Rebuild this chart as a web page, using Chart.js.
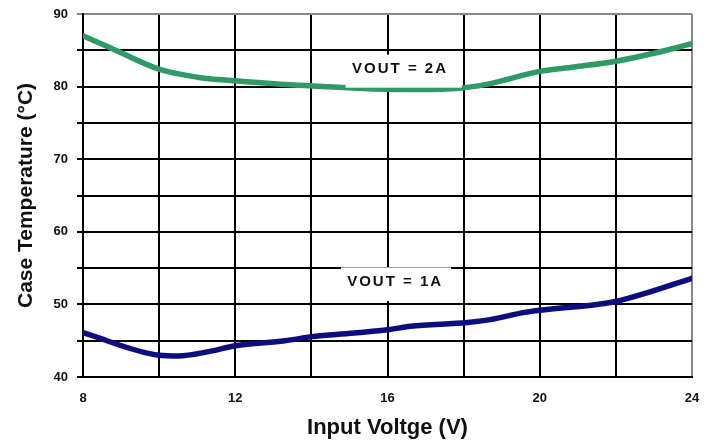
<!DOCTYPE html>
<html>
<head>
<meta charset="utf-8">
<title>Case Temperature vs Input Voltage</title>
<script src="https://cdn.jsdelivr.net/npm/chart.js@4/dist/chart.umd.min.js"></script>
<style>
  html, body { margin: 0; padding: 0; background: #fff; }
  canvas { display: block; }
</style>
</head>
<body>
<canvas id="chart" width="715" height="443"></canvas>
<script>
'use strict'

// input voltage (V) and case temperature (°C) for each output current
var volts2A = [8, 8.7, 10, 11, 12, 13.3, 14.3, 15.1, 16.4, 17.8, 18.6, 20, 20.9, 22, 23, 24]
var temp2A = [87.0, 85.4, 82.4, 81.3, 80.8, 80.3, 80.0, 79.8, 79.6, 79.75, 80.3, 82.1, 82.7, 83.5, 84.6, 85.9]

var volts1A = [8, 10, 10.5, 11.3, 12, 13.3, 14.1, 15.2, 16, 16.6, 18.1, 18.7, 19.6, 20, 21.5, 22, 22.7, 24]
var temp1A = [46.1, 43.0, 42.9, 43.5, 44.3, 45.0, 45.6, 46.1, 46.5, 47.0, 47.5, 47.9, 48.9, 49.2, 50.0, 50.4, 51.4, 53.6]

var xTickLabels = [8, 12, 16, 20, 24]
var yTickLabels = [40, 50, 60, 70, 80, 90]

var seriesNames = ['VOUT = 2A', 'VOUT = 1A']

var FONT = '"Liberation Sans", Arial, sans-serif'

function toPoints(xs, ys) {
  return xs.map(function (x, i) { return { x: x, y: ys[i] } })
}

// text boxes sitting on the grid, placed in axis units
var curveLabels = [
  { text: seriesNames[0], x: 16.33, y: 82.4, box: [14.9, 84.4, 17.95, 79.85] },
  { text: seriesNames[1], x: 16.2, y: 53.05, box: [14.78, 55.1, 17.67, 50.45] }
]

var curveLabelPlugin = {
  id: 'curveLabels',
  afterDatasetsDraw: function (chart) {
    var ctx = chart.ctx
    var xs = chart.scales.x
    var ys = chart.scales.y
    ctx.save()
    curveLabels.forEach(function (lbl) {
      var l = xs.getPixelForValue(lbl.box[0])
      var t = ys.getPixelForValue(lbl.box[1])
      var r = xs.getPixelForValue(lbl.box[2])
      var b = ys.getPixelForValue(lbl.box[3])
      ctx.fillStyle = '#fff'
      ctx.fillRect(l, t, r - l, b - t)
      ctx.fillStyle = '#111'
      ctx.font = 'bold 15px ' + FONT
      ctx.letterSpacing = '2px'
      ctx.textAlign = 'center'
      ctx.textBaseline = 'middle'
      ctx.fillText(lbl.text, xs.getPixelForValue(lbl.x), ys.getPixelForValue(lbl.y))
    })
    ctx.restore()
  }
}

new Chart(document.getElementById('chart'), {
  type: 'line',
  data: {
    datasets: [
      {
        label: seriesNames[0],
        data: toPoints(volts2A, temp2A),
        borderColor: '#2f9a66',
        borderWidth: 5.5,
        pointRadius: 0,
        cubicInterpolationMode: 'monotone',
        borderCapStyle: 'round'
      },
      {
        label: seriesNames[1],
        data: toPoints(volts1A, temp1A),
        borderColor: '#0d0d80',
        borderWidth: 5.5,
        pointRadius: 0,
        cubicInterpolationMode: 'monotone',
        borderCapStyle: 'round'
      }
    ]
  },
  options: {
    responsive: false,
    animation: false,
    layout: { padding: { top: 14, right: 23, left: 0, bottom: 0 } },
    plugins: {
      legend: { display: false },
      tooltip: { enabled: false }
    },
    scales: {
      x: {
        type: 'linear',
        min: 8,
        max: 24,
        afterFit: function (scale) {
          scale.height = 66
          scale.paddingLeft = 0
          scale.paddingRight = 0
        },
        ticks: {
          stepSize: 2,
          autoSkip: false,
          maxRotation: 0,
          padding: 14,
          color: '#111',
          font: { family: FONT, size: 13, weight: 'bold' },
          callback: function (v) { return xTickLabels.indexOf(v) >= 0 ? String(v) : '' }
        },
        grid: {
          drawTicks: false,
          lineWidth: 2,
          color: function (c) { return c.tick && c.tick.value === 24 ? '#888' : '#000' }
        },
        border: { color: '#000', width: 2 },
        title: {
          display: true,
          text: 'Input Voltge (V)',
          color: '#111',
          font: { family: FONT, size: 22, weight: 'bold' },
          padding: { top: 0, bottom: 2 }
        }
      },
      y: {
        min: 40,
        max: 90,
        afterFit: function (scale) {
          scale.width = 83
          scale.paddingTop = 0
          scale.paddingBottom = 0
        },
        ticks: {
          stepSize: 5,
          autoSkip: false,
          padding: 9,
          color: '#111',
          font: { family: FONT, size: 13, weight: 'bold' },
          callback: function (v) { return yTickLabels.indexOf(v) >= 0 ? String(v) : '' }
        },
        grid: {
          tickLength: 6,
          lineWidth: 2,
          color: function (c) { return c.tick && c.tick.value === 90 ? '#888' : '#000' }
        },
        border: { color: '#000', width: 2 },
        title: {
          display: true,
          text: 'Case Temperature (°C)',
          color: '#111',
          font: { family: FONT, size: 21, weight: 'bold' },
          padding: { top: 14, bottom: 0 }
        }
      }
    }
  },
  plugins: [curveLabelPlugin]
})
</script>
</body>
</html>
